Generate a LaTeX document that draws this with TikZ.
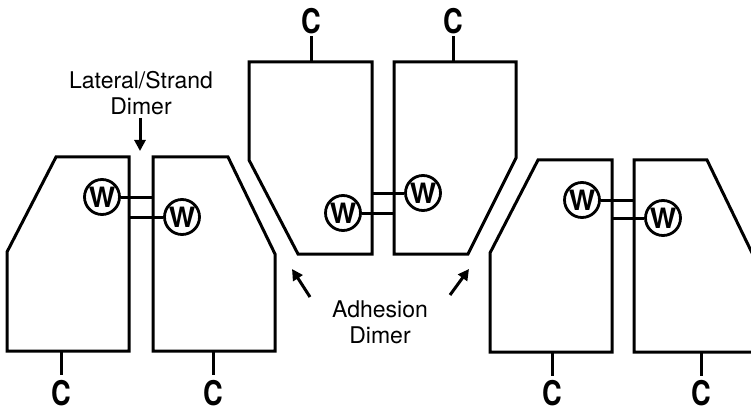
\documentclass[tikz,border=0pt]{standalone}
\usepackage{fontspec}
\setmainfont{TeX Gyre Heros}
\usetikzlibrary{arrows.meta}
\begin{document}
\begin{tikzpicture}[x=1pt,y=-1pt,line width=3pt,line join=miter,
  cell/.style={draw,line width=3pt},
  wcirc/.style={circle,draw,line width=2.8pt,minimum size=35pt,inner sep=0pt,
    font=\fontsize{28}{28}\bfseries\selectfont},
  clab/.style={inner sep=0pt,xscale=0.8,font=\fontsize{34}{34}\bfseries\selectfont},
  lbl/.style={align=center,inner sep=0pt,font=\fontsize{23}{26}\selectfont},
  link/.style={line width=3pt},
  arr/.style={line width=3pt,-{Triangle[length=11pt,width=11pt]}}]
\useasboundingbox (0,0) rectangle (751,414);
\clip (0,0) rectangle (751,414);
% cells
\draw[cell] (56,157) -- (129,157) -- (129,351) -- (7,351) -- (7,252) -- cycle;
\draw[cell] (153,157) -- (228,157) -- (275,254) -- (275,351) -- (153,351) -- cycle;
\draw[cell] (249,62) -- (372,62) -- (372,254) -- (298,254) -- (249,160) -- cycle;
\draw[cell] (394,62) -- (516,62) -- (516,158) -- (468,254) -- (394,254) -- cycle;
\draw[cell] (538,160) -- (612,160) -- (612,352) -- (490,352) -- (490,253) -- cycle;
\draw[cell] (634,160) -- (707,160) -- (754,257) -- (754,352) -- (634,352) -- cycle;
% W domains
\node[wcirc] (wA) at (102,197) {W};
\node[wcirc] (wB) at (182,217) {W};
\node[wcirc] (wC) at (343,213) {W};
\node[wcirc] (wD) at (423,193) {W};
\node[wcirc] (wE) at (582,200) {W};
\node[wcirc] (wF) at (663,218) {W};
\coordinate (bL) at (153,197);
\coordinate (aR) at (129,217);
\coordinate (cR) at (372,193);
\coordinate (dL) at (394,213);
\coordinate (fL) at (634,200);
\coordinate (eR) at (612,218);
\draw[link] (wA.east) -- (bL);
\draw[link] (aR) -- (wB.west);
\draw[link] (cR) -- (wD.west);
\draw[link] (wC.east) -- (dL);
\draw[link] (wE.east) -- (fL);
\draw[link] (eR) -- (wF.west);
% C termini
\node[clab] (cA) at (61,393) {C};
\node[clab] (cB) at (213,393) {C};
\node[clab] (cC) at (311,21) {C};
\node[clab] (cD) at (453,21) {C};
\node[clab] (cE) at (552,393) {C};
\node[clab] (cF) at (701,393) {C};
\coordinate (sA) at (61,351);  \coordinate (tA) at (61,375);
\coordinate (sB) at (213,351); \coordinate (tB) at (213,375);
\coordinate (sC) at (311,62);  \coordinate (tC) at (311,36);
\coordinate (sD) at (453,62);  \coordinate (tD) at (453,36);
\coordinate (sE) at (552,352); \coordinate (tE) at (552,376);
\coordinate (sF) at (701,352); \coordinate (tF) at (701,376);
\draw (sA) -- (tA);
\draw (sB) -- (tB);
\draw (sC) -- (tC);
\draw (sD) -- (tD);
\draw (sE) -- (tE);
\draw (sF) -- (tF);
% labels
\node[lbl] (lat) at (141,93) {Lateral/Strand\\Dimer};
\node[lbl] (adh) at (380,322) {Adhesion\\Dimer};
\coordinate (latS) at (140,118);
\coordinate (latE) at (140,151);
\draw[arr] (latS) -- (latE);
\coordinate (adL0) at (310,297);
\coordinate (adL1) at (292,269);
\coordinate (adR0) at (450,295);
\coordinate (adR1) at (469,269);
\draw[arr] (adL0) -- (adL1);
\draw[arr] (adR0) -- (adR1);
\end{tikzpicture}
\end{document}
